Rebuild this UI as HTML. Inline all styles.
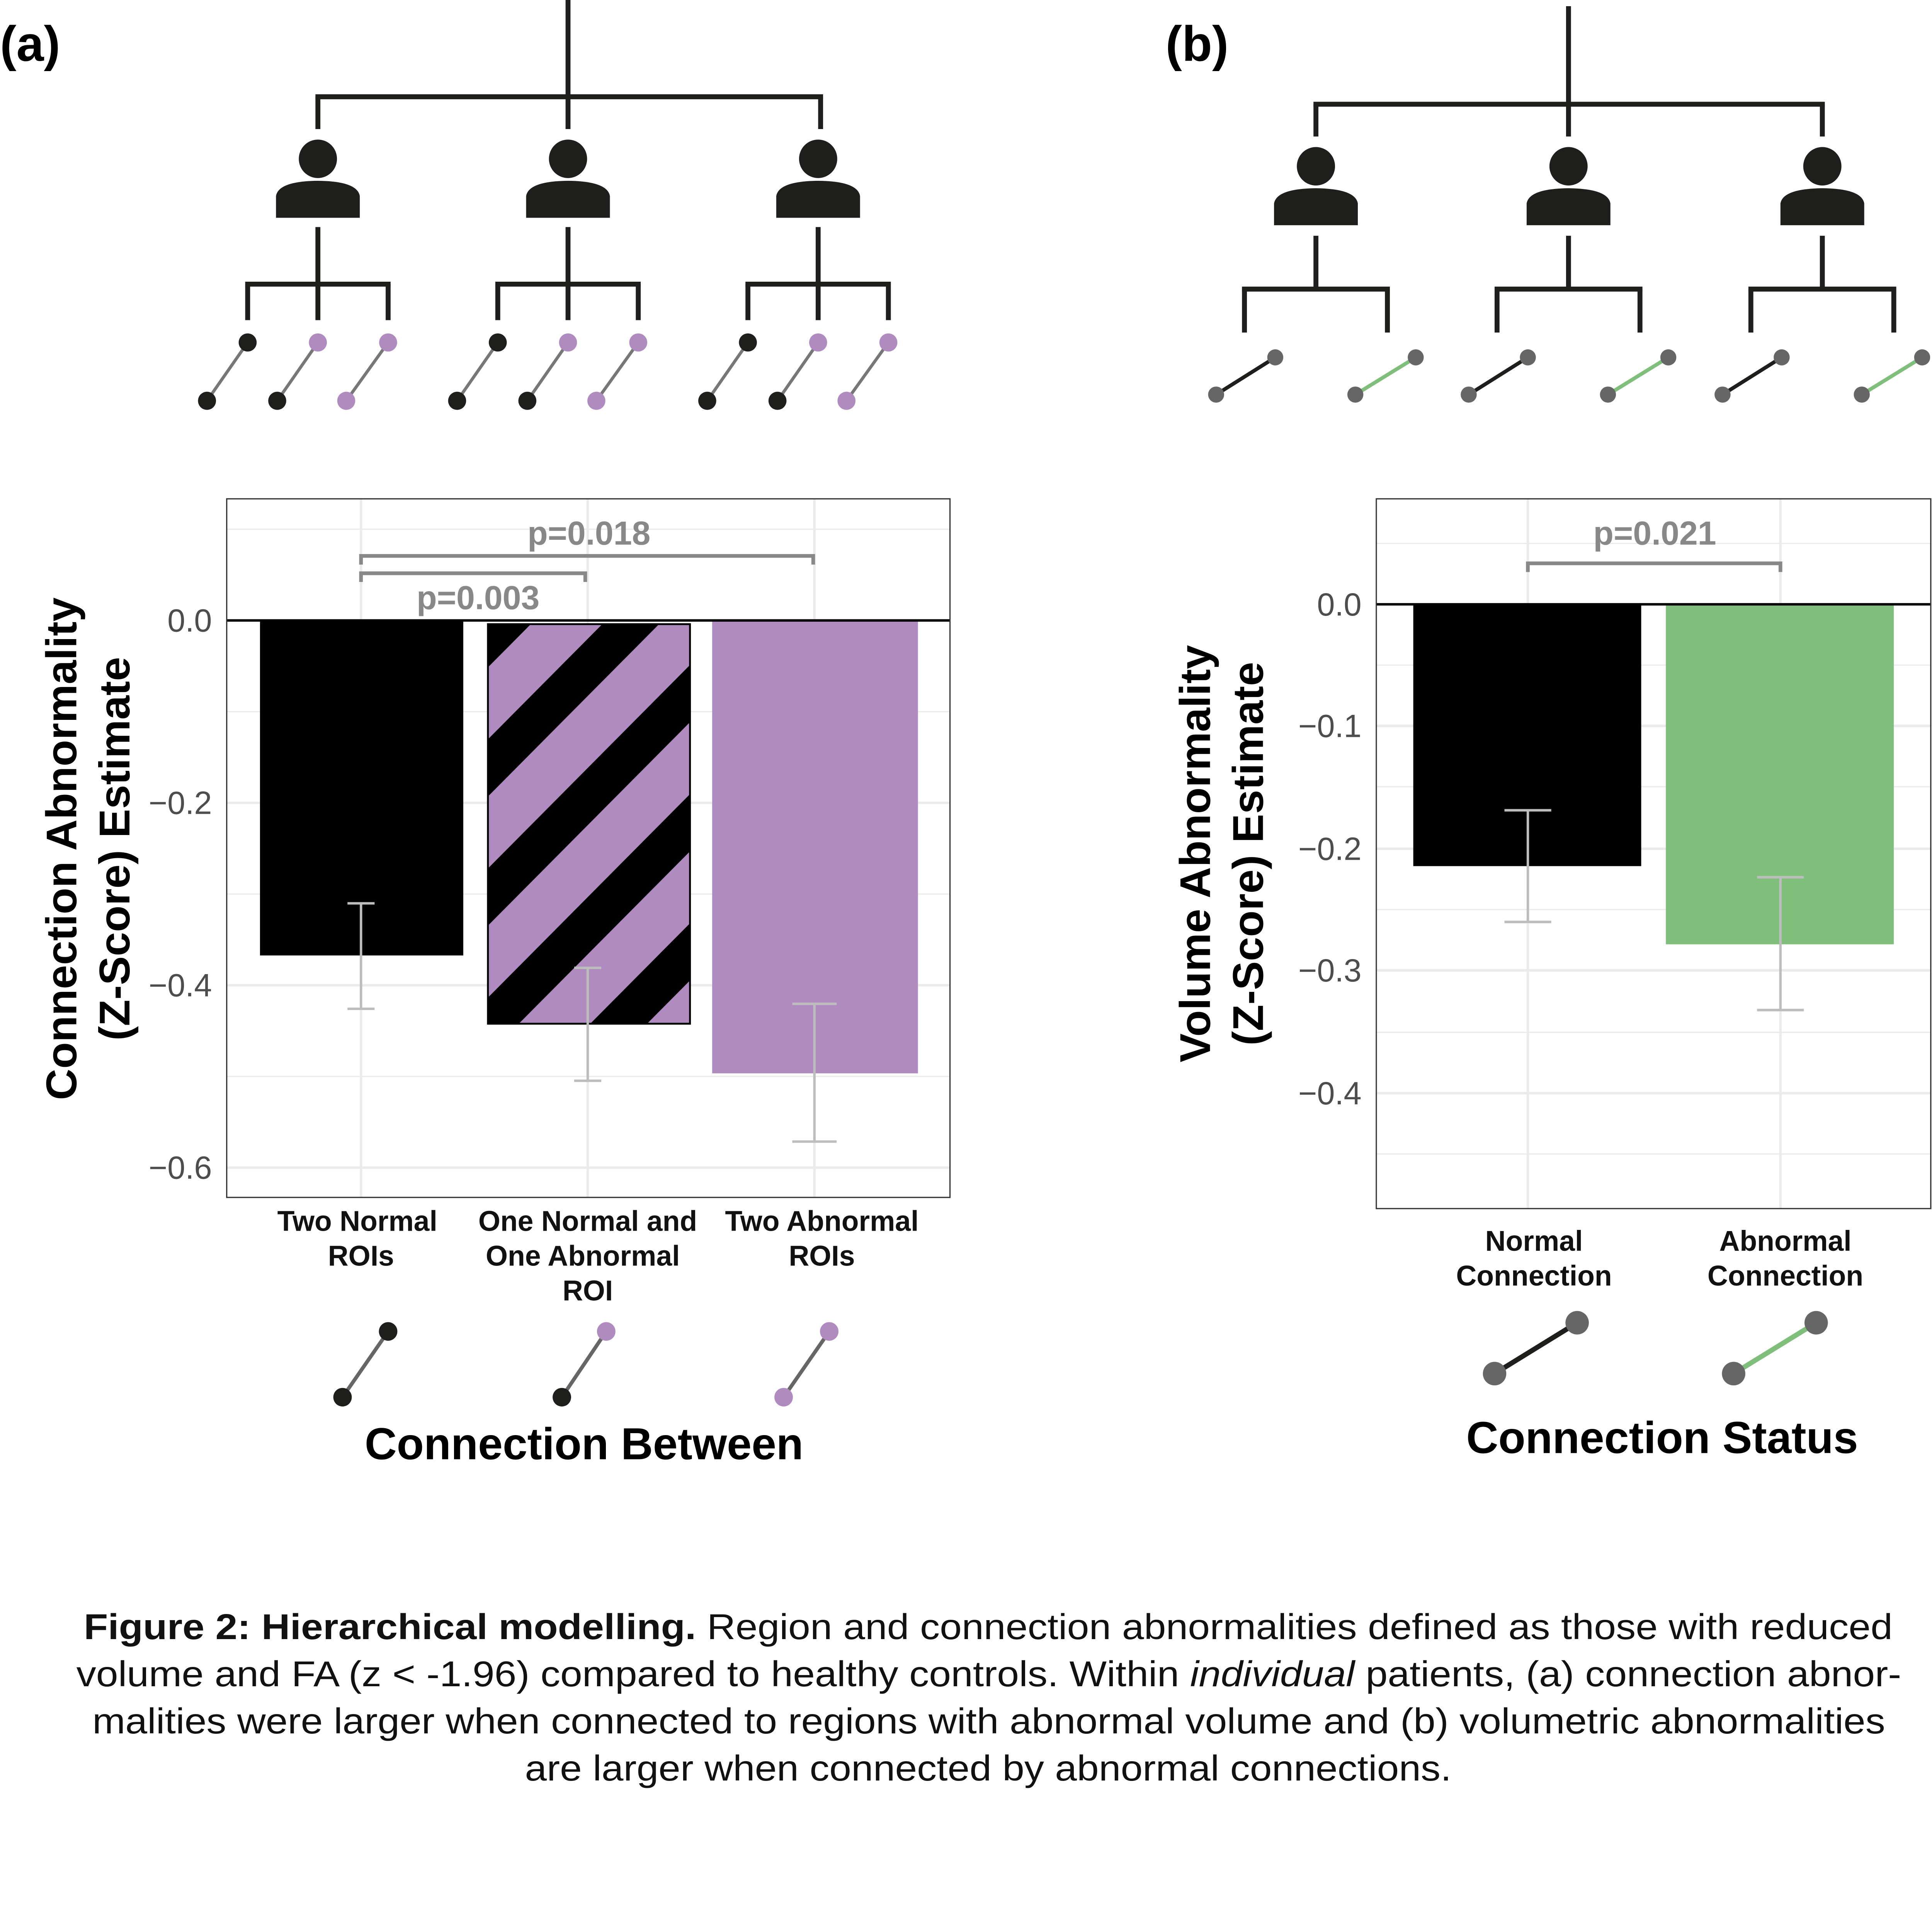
<!DOCTYPE html>
<html><head><meta charset="utf-8"><style>
html,body{margin:0;padding:0;background:#fff;overflow:hidden;width:100vw;height:100vh;}
svg{display:block;position:absolute;left:0;top:0;width:100vw;height:100vh;}
text{font-family:"Liberation Sans",sans-serif;}
</style></head><body>
<svg viewBox="0 0 1568 1557" preserveAspectRatio="none" xmlns="http://www.w3.org/2000/svg">
<defs>
<pattern id="st" patternUnits="userSpaceOnUse" x="396" y="595.8" width="300" height="73.6" patternTransform="rotate(-45 396 595.8)">
<rect x="0" y="0" width="300" height="73.6" fill="#af8bbf"/>
<rect x="0" y="0" width="300" height="32.6" fill="#000"/>
</pattern>
<g id="person">
<circle cx="0" cy="0" r="15.5" fill="#1e1e1c"/>
<path d="M-34,47.5 V30 Q-32,18 0,17.7 Q32,18 34,30 V47.5 Z" fill="#1e1e1c"/>
</g>
</defs>
<rect width="1568" height="1557" fill="#fff"/>

<text x="0" y="49" font-size="40" font-weight="bold">(a)</text>
<text x="946" y="49" font-size="40" font-weight="bold">(b)</text>

<!-- Tree A -->
<g stroke="#1e1e1c" stroke-width="4" fill="none">
<line x1="461" y1="0" x2="461" y2="78"/>
<line x1="256" y1="78" x2="668" y2="78"/>
<line x1="258" y1="78" x2="258" y2="104"/>
<line x1="461" y1="78" x2="461" y2="104"/>
<line x1="666" y1="78" x2="666" y2="104"/>
</g>
<g id="ga">
<use href="#person" x="258" y="128"/>
<g stroke="#1e1e1c" stroke-width="4">
<line x1="258" y1="183" x2="258" y2="258"/>
<line x1="199" y1="229" x2="317" y2="229"/>
<line x1="201" y1="229" x2="201" y2="258"/>
<line x1="315" y1="229" x2="315" y2="258"/>
</g>
<g stroke="#777" stroke-width="2.5">
<line x1="201" y1="276" x2="168" y2="323"/>
<line x1="258" y1="276" x2="225" y2="323"/>
<line x1="315" y1="276" x2="281" y2="323"/>
</g>
<circle cx="201" cy="276" r="7.3" fill="#1e1e1c"/>
<circle cx="168" cy="323" r="7.3" fill="#1e1e1c"/>
<circle cx="258" cy="276" r="7.3" fill="#af8bbf"/>
<circle cx="225" cy="323" r="7.3" fill="#1e1e1c"/>
<circle cx="315" cy="276" r="7.3" fill="#af8bbf"/>
<circle cx="281" cy="323" r="7.3" fill="#af8bbf"/>
</g>
<use href="#ga" x="203" y="0"/>
<use href="#ga" x="406" y="0"/>

<!-- Tree B -->
<g stroke="#1e1e1c" stroke-width="4" fill="none">
<line x1="1273" y1="5" x2="1273" y2="84"/>
<line x1="1066" y1="84" x2="1481" y2="84"/>
<line x1="1068" y1="84" x2="1068" y2="110"/>
<line x1="1273" y1="84" x2="1273" y2="110"/>
<line x1="1479" y1="84" x2="1479" y2="110"/>
</g>
<g id="gb">
<use href="#person" x="1068" y="134"/>
<g stroke="#1e1e1c" stroke-width="4">
<line x1="1068" y1="190" x2="1068" y2="233"/>
<line x1="1008" y1="233" x2="1128" y2="233"/>
<line x1="1010" y1="233" x2="1010" y2="268"/>
<line x1="1126" y1="233" x2="1126" y2="268"/>
</g>
<line x1="987" y1="318" x2="1035" y2="288" stroke="#1e1e1c" stroke-width="3"/>
<line x1="1100" y1="318" x2="1149" y2="288" stroke="#7fbf7b" stroke-width="3"/>
<circle cx="987" cy="318" r="6.5" fill="#666"/>
<circle cx="1035" cy="288" r="6.5" fill="#666"/>
<circle cx="1100" cy="318" r="6.5" fill="#666"/>
<circle cx="1149" cy="288" r="6.5" fill="#666"/>
</g>
<use href="#gb" x="205" y="0"/>
<use href="#gb" x="411" y="0"/>

<!-- Chart A -->
<g stroke="#ebebeb" stroke-width="1">
<line x1="184" y1="426.5" x2="771" y2="426.5"/>
<line x1="184" y1="573.5" x2="771" y2="573.5"/>
<line x1="184" y1="720.5" x2="771" y2="720.5"/>
<line x1="184" y1="867.5" x2="771" y2="867.5"/>
</g>
<g stroke="#ebebeb" stroke-width="2">
<line x1="184" y1="647" x2="771" y2="647"/>
<line x1="184" y1="794" x2="771" y2="794"/>
<line x1="184" y1="941" x2="771" y2="941"/>
<line x1="293" y1="402" x2="293" y2="965"/>
<line x1="477" y1="402" x2="477" y2="965"/>
<line x1="661" y1="402" x2="661" y2="965"/>
</g>
<rect x="211" y="500" width="165" height="270" fill="#000"/>
<rect x="396" y="503" width="164" height="322" fill="url(#st)" stroke="#000" stroke-width="1.5"/>
<rect x="578" y="500" width="167" height="365" fill="#af8bbf"/>
<g stroke="#bdbdbd" stroke-width="2">
<line x1="293" y1="728" x2="293" y2="813"/><line x1="282" y1="728" x2="304" y2="728"/><line x1="282" y1="813" x2="304" y2="813"/>
<line x1="477" y1="780" x2="477" y2="871"/><line x1="466" y1="780" x2="488" y2="780"/><line x1="466" y1="871" x2="488" y2="871"/>
<line x1="661" y1="809" x2="661" y2="920"/><line x1="643" y1="809" x2="679" y2="809"/><line x1="643" y1="920" x2="679" y2="920"/>
</g>
<line x1="184" y1="500" x2="771" y2="500" stroke="#000" stroke-width="2"/>
<rect x="184" y="402" width="587" height="563" fill="none" stroke="#333" stroke-width="1"/>
<g stroke="#888" stroke-width="3" fill="none">
<polyline points="293,455 293,448 660,448 660,455"/>
<polyline points="293,469 293,462 475,462 475,469"/>
</g>
<g fill="#888" font-size="27" font-weight="bold" text-anchor="middle">
<text x="478" y="439">p=0.018</text>
<text x="388" y="491">p=0.003</text>
</g>
<g fill="#4d4d4d" font-size="26" text-anchor="end">
<text x="172" y="509">0.0</text>
<text x="172" y="656">−0.2</text>
<text x="172" y="803">−0.4</text>
<text x="172" y="950">−0.6</text>
</g>
<g font-size="35" font-weight="bold" text-anchor="middle">
<text transform="translate(62 684) rotate(-90)">Connection Abnormality</text>
<text transform="translate(105 684) rotate(-90)">(Z-Score) Estimate</text>
</g>
<g font-size="23" font-weight="bold" text-anchor="middle" fill="#111">
<text x="290" y="992">Two Normal</text><text x="293" y="1020">ROIs</text>
<text x="477" y="992">One Normal and</text><text x="473" y="1020">One Abnormal</text><text x="477" y="1048">ROI</text>
<text x="667" y="992">Two Abnormal</text><text x="667" y="1020">ROIs</text>
</g>
<g stroke="#666" stroke-width="3">
<line x1="278" y1="1126" x2="315" y2="1073"/>
<line x1="456" y1="1126" x2="492" y2="1073"/>
<line x1="636" y1="1126" x2="673" y2="1073"/>
</g>
<circle cx="278" cy="1126" r="7.5" fill="#1e1e1c"/><circle cx="315" cy="1073" r="7.5" fill="#1e1e1c"/>
<circle cx="456" cy="1126" r="7.5" fill="#1e1e1c"/><circle cx="492" cy="1073" r="7.5" fill="#af8bbf"/>
<circle cx="636" cy="1126" r="7.5" fill="#af8bbf"/><circle cx="673" cy="1073" r="7.5" fill="#af8bbf"/>
<text x="474" y="1176" font-size="36" font-weight="bold" text-anchor="middle">Connection Between</text>

<!-- Chart B -->
<g stroke="#ebebeb" stroke-width="1">
<line x1="1117" y1="438" x2="1567" y2="438"/>
<line x1="1117" y1="536" x2="1567" y2="536"/>
<line x1="1117" y1="634" x2="1567" y2="634"/>
<line x1="1117" y1="733" x2="1567" y2="733"/>
<line x1="1117" y1="832" x2="1567" y2="832"/>
<line x1="1117" y1="930" x2="1567" y2="930"/>
</g>
<g stroke="#ebebeb" stroke-width="2">
<line x1="1117" y1="585" x2="1567" y2="585"/>
<line x1="1117" y1="684" x2="1567" y2="684"/>
<line x1="1117" y1="782" x2="1567" y2="782"/>
<line x1="1117" y1="881" x2="1567" y2="881"/>
<line x1="1240" y1="402" x2="1240" y2="974"/>
<line x1="1445" y1="402" x2="1445" y2="974"/>
</g>
<rect x="1147" y="487" width="185" height="211" fill="#000"/>
<rect x="1352" y="487" width="185" height="274" fill="#7fbf7b"/>
<g stroke="#bdbdbd" stroke-width="2">
<line x1="1240" y1="653" x2="1240" y2="743"/><line x1="1221" y1="653" x2="1259" y2="653"/><line x1="1221" y1="743" x2="1259" y2="743"/>
<line x1="1445" y1="707" x2="1445" y2="814"/><line x1="1426" y1="707" x2="1464" y2="707"/><line x1="1426" y1="814" x2="1464" y2="814"/>
</g>
<line x1="1117" y1="487" x2="1567" y2="487" stroke="#000" stroke-width="2"/>
<rect x="1117" y="402" width="450" height="572" fill="none" stroke="#333" stroke-width="1"/>
<polyline points="1240,461 1240,454 1445,454 1445,461" stroke="#888" stroke-width="3" fill="none"/>
<text x="1343" y="439" fill="#888" font-size="27" font-weight="bold" text-anchor="middle">p=0.021</text>
<g fill="#4d4d4d" font-size="26" text-anchor="end">
<text x="1105" y="496">0.0</text>
<text x="1105" y="594">−0.1</text>
<text x="1105" y="693">−0.2</text>
<text x="1105" y="791">−0.3</text>
<text x="1105" y="890">−0.4</text>
</g>
<g font-size="35" font-weight="bold" text-anchor="middle">
<text transform="translate(982 688) rotate(-90)">Volume Abnormality</text>
<text transform="translate(1025 688) rotate(-90)">(Z-Score) Estimate</text>
</g>
<g font-size="23" font-weight="bold" text-anchor="middle" fill="#111">
<text x="1245" y="1008">Normal</text><text x="1245" y="1036">Connection</text>
<text x="1449" y="1008">Abnormal</text><text x="1449" y="1036">Connection</text>
</g>
<line x1="1213" y1="1107" x2="1280" y2="1066" stroke="#1e1e1c" stroke-width="4"/>
<line x1="1407" y1="1107" x2="1474" y2="1066" stroke="#7fbf7b" stroke-width="4"/>
<circle cx="1213" cy="1107" r="9.5" fill="#666"/><circle cx="1280" cy="1066" r="9.5" fill="#666"/>
<circle cx="1407" cy="1107" r="9.5" fill="#666"/><circle cx="1474" cy="1066" r="9.5" fill="#666"/>
<text x="1349" y="1171" font-size="36" font-weight="bold" text-anchor="middle">Connection Status</text>

<!-- Caption -->
<g font-size="29" fill="#111">
<text x="68" y="1321" textLength="1468" lengthAdjust="spacingAndGlyphs"><tspan font-weight="bold">Figure 2: Hierarchical modelling.</tspan> Region and connection abnormalities defined as those with reduced</text>
<text x="62" y="1359" textLength="1481" lengthAdjust="spacingAndGlyphs">volume and FA (z &lt; -1.96) compared to healthy controls. Within <tspan font-style="italic">individual</tspan> patients, (a) connection abnor-</text>
<text x="75" y="1397" textLength="1455" lengthAdjust="spacingAndGlyphs">malities were larger when connected to regions with abnormal volume and (b) volumetric abnormalities</text>
<text x="426" y="1435" textLength="752" lengthAdjust="spacingAndGlyphs">are larger when connected by abnormal connections.</text>
</g>
</svg>
</body></html>
